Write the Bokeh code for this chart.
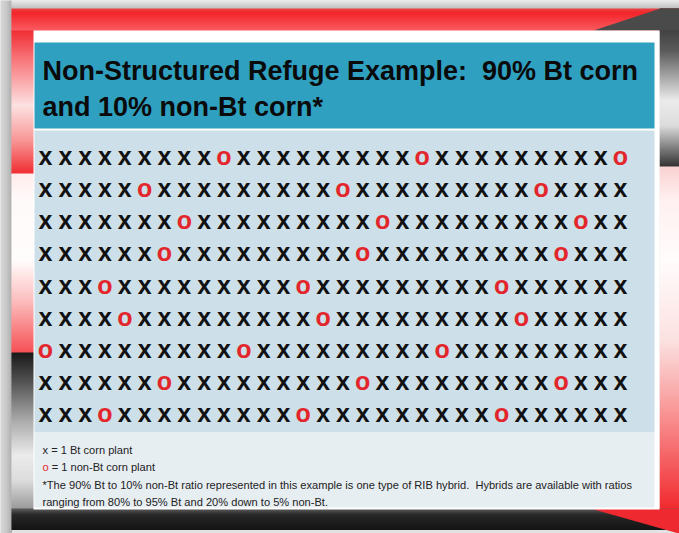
import numpy as np
from bokeh.plotting import figure
from bokeh.models import Range1d, ColumnDataSource
from bokeh.core.properties import value
from bokeh.embed import file_html
from bokeh.resources import INLINE

# ---------------- data ----------------
title_lines = ["Non-Structured Refuge Example:  90% Bt corn", "and 10% non-Bt corn*"]
field_rows = [
    "xxxxxxxxxoxxxxxxxxxoxxxxxxxxxo",
    "xxxxxoxxxxxxxxxoxxxxxxxxxoxxxx",
    "xxxxxxxoxxxxxxxxxoxxxxxxxxxoxx",
    "xxxxxxoxxxxxxxxxoxxxxxxxxxoxxx",
    "xxxoxxxxxxxxxoxxxxxxxxxoxxxxxx",
    "xxxxoxxxxxxxxxoxxxxxxxxxoxxxxx",
    "oxxxxxxxxxoxxxxxxxxxoxxxxxxxxx",
    "xxxxxxoxxxxxxxxxoxxxxxxxxxoxxx",
    "xxxoxxxxxxxxxoxxxxxxxxxoxxxxxx",
]
legend_x_text = "x = 1 Bt corn plant"
legend_o_text = "= 1 non-Bt corn plant"
footnote_lines = [
    "*The 90% Bt to 10% non-Bt ratio represented in this example is one type of RIB hybrid.  Hybrids are available with ratios",
    "ranging from 80% to 95% Bt and 20% down to 5% non-Bt.",
]


def keep_spaces(s):
    return s.replace("  ", " \u00a0")


# ---------------- layout ----------------
W, H = 679, 533
PX0, PY0 = 0, 0
COL0_X, COL_LAST_X = 45.0, 620.0
ROW0_Y, ROW_LAST_Y = 155.0, 412.0
n_cols = len(field_rows[0])
n_rows = len(field_rows)
sx = (COL_LAST_X - COL0_X) / (n_cols - 1)
sy = (ROW_LAST_Y - ROW0_Y) / (n_rows - 1)

x_range = Range1d((PX0 - COL0_X) / sx, (PX0 + W - COL0_X) / sx)
y_range = Range1d((PY0 + H - ROW0_Y) / sy, (PY0 - ROW0_Y) / sy)

p = figure(width=W, height=H, x_range=x_range, y_range=y_range,
           x_axis_type=None, y_axis_type=None, toolbar_location=None,
           output_backend="svg", min_border=0, outline_line_color=None)
p.grid.visible = False
p.background_fill_color = "#dcdcdc"
p.border_fill_color = "#dcdcdc"
p.extra_x_ranges = {"px": Range1d(PX0, PX0 + W)}
p.extra_y_ranges = {"px": Range1d(PY0 + H, PY0)}


def hexc(c):
    return "#%02x%02x%02x" % tuple(int(round(v)) for v in c)


bg = dict(left=[], right=[], top=[], bottom=[], color=[])


def rect(x0, x1, y0, y1, c):
    bg["left"].append(x0); bg["right"].append(x1)
    bg["top"].append(y0); bg["bottom"].append(y1)
    bg["color"].append(hexc(c))


def vgrad(x0, x1, y0, y1, stops, step=2):
    sy_ = [s[0] for s in stops]
    cs = np.array([s[1] for s in stops], dtype=float)
    y = y0
    while y < y1:
        yy = min(y + step, y1)
        m = (y + yy) / 2
        c = [np.interp(m, sy_, cs[:, k]) for k in range(3)]
        rect(x0, x1, y, yy + 0.5, c)
        y = yy


def hgrad(x0, x1, y0, y1, stops, step=1):
    sx_ = [s[0] for s in stops]
    cs = np.array([s[1] for s in stops], dtype=float)
    x = x0
    while x < x1:
        xx = min(x + step, x1)
        m = (x + xx) / 2
        c = [np.interp(m, sx_, cs[:, k]) for k in range(3)]
        rect(x, xx + 0.5, y0, y1, c)
        x = xx


# frame
rect(0, 680, 0, 540, (226, 226, 226))
hgrad(0, 11, 0, 540, [(0, (215, 215, 215)), (6, (200, 200, 200)), (11, (175, 175, 175))])
vgrad(11, 680, 0, 8, [(0, (235, 235, 235)), (8, (190, 190, 190))])
# top band
vgrad(11, 680, 8, 31, [(8, (232, 70, 70)), (12, (242, 35, 40)), (31, (250, 95, 100))])
# left strip
vgrad(11, 34, 30, 173, [(30, (240, 45, 50)), (60, (248, 120, 125)), (105, (252, 225, 225)),
                        (140, (248, 150, 150)), (173, (240, 45, 50))])
vgrad(11, 34, 173, 352, [(173, (255, 235, 235)), (200, (255, 250, 250)), (260, (255, 252, 252)),
                         (300, (252, 190, 190)), (352, (245, 80, 85))])
vgrad(11, 34, 352, 510, [(352, (25, 25, 25)), (380, (80, 80, 80)), (420, (170, 170, 170)),
                         (455, (235, 235, 235)), (480, (220, 220, 220)), (510, (150, 150, 150))])
# right strip
vgrad(659, 680, 8, 166, [(8, (40, 40, 40)), (50, (90, 90, 90)), (100, (235, 235, 235)),
                         (125, (220, 220, 220)), (166, (50, 50, 50))])
vgrad(659, 680, 166, 510, [(166, (250, 210, 210)), (200, (255, 240, 240)), (260, (255, 252, 252)),
                           (340, (252, 225, 225)), (420, (248, 140, 140)), (510, (240, 40, 45))])
# bottom band
vgrad(11, 680, 508, 529, [(508, (95, 95, 95)), (514, (40, 40, 40)), (529, (20, 20, 20))])

p.quad(left="left", right="right", top="top", bottom="bottom", fill_color="color",
       line_color=None, source=ColumnDataSource(bg), x_range_name="px", y_range_name="px")

# top-right dark triangle and bottom-right red triangle
p.patch([593, 660, 680, 680, 659], [30, 8, 8, 30, 30], fill_color="#4a4a4a", line_color=None,
        x_range_name="px", y_range_name="px")
p.patch([590, 680, 680], [508, 508, 533.5], fill_color="#ee2a30", line_color=None,
        x_range_name="px", y_range_name="px")

# panels
p.quad(left=[33], right=[659], top=[30], bottom=[509], fill_color="#ffffff", line_color=None,
       x_range_name="px", y_range_name="px")
p.quad(left=[34], right=[654], top=[42], bottom=[128], fill_color="#30a0c0", line_color=None,
       x_range_name="px", y_range_name="px")
p.quad(left=[34], right=[654], top=[130], bottom=[432], fill_color="#cddfe8", line_color=None,
       x_range_name="px", y_range_name="px")
p.quad(left=[34], right=[654], top=[432], bottom=[507], fill_color="#e7eef2", line_color=None,
       x_range_name="px", y_range_name="px")

# title
p.text(x=[42, 42], y=[70, 106], text=[keep_spaces(t) for t in title_lines],
       text_font=value("Liberation Sans"),
       text_font_style="bold", text_font_size="27px", text_color="#0a0a0a",
       text_baseline="alphabetic", text_align="left", x_range_name="px", y_range_name="px")

# field of plants
cols, rws, chars, colors = [], [], [], []
for r, line in enumerate(field_rows):
    for c, ch in enumerate(line):
        cols.append(c); rws.append(r); chars.append(ch)
        colors.append("#111111" if ch == "x" else "#e3262b")
p.text(x="col", y="row", text="ch", text_color="color",
       source=ColumnDataSource(dict(col=cols, row=rws, ch=chars, color=colors)),
       text_font=value("Liberation Sans"), text_font_style="bold", text_font_size="25px",
       text_align="center", text_baseline="alphabetic", y_offset=0.5)

# legend / footnote
LF = value("Liberation Sans")
FS = "11.1px"
p.text(x=[42], y=[449], text=[legend_x_text], text_font=LF, text_font_size=FS,
       text_color="#222222", text_baseline="alphabetic", x_range_name="px", y_range_name="px")
p.text(x=[42], y=[466.5], text=["o"], text_font=LF, text_font_size=FS,
       text_color="#e3262b", text_baseline="alphabetic", x_range_name="px", y_range_name="px")
p.text(x=[42], y=[466.5], text=[legend_o_text], x_offset=9.2, text_font=LF, text_font_size=FS,
       text_color="#222222", text_baseline="alphabetic", x_range_name="px", y_range_name="px")
p.text(x=[42, 42], y=[484, 501.5], text=[keep_spaces(t) for t in footnote_lines], text_font=LF,
       text_font_size=FS, text_color="#222222", text_baseline="alphabetic",
       x_range_name="px", y_range_name="px")

open("out.html", "w").write(file_html(p, INLINE))
